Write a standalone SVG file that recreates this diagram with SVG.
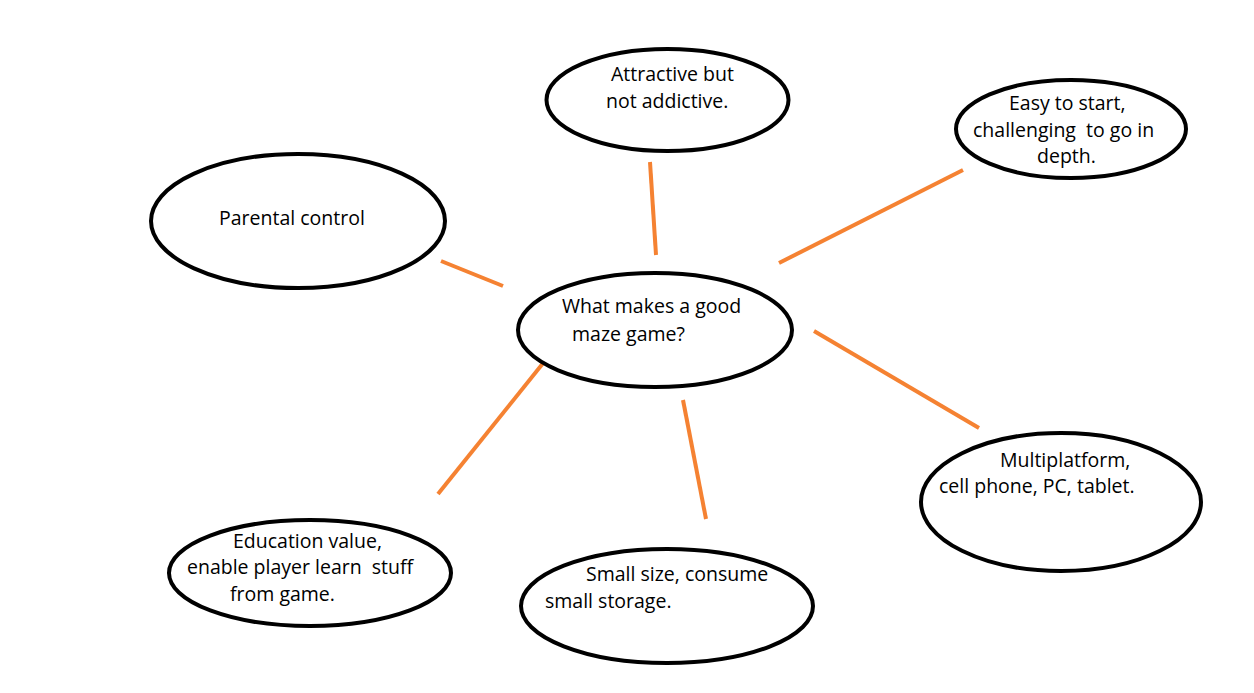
<svg xmlns="http://www.w3.org/2000/svg" width="1254" height="693" viewBox="0 0 1254 693">
<style>
.n{fill:#fff;stroke:#000;stroke-width:4}
.t{font-family:"Open Sans","Liberation Sans",sans-serif;font-size:19.5px;fill:#000;white-space:pre}
.c{stroke:#F58232;stroke-width:4;stroke-linecap:butt;fill:none}
</style>
<rect width="1254" height="693" fill="#fff"/>
<g id="connectors">
<line class="c" x1="650" y1="162" x2="656" y2="255"/>
<line class="c" x1="963" y1="170" x2="779" y2="263"/>
<line class="c" x1="441" y1="261" x2="503" y2="286"/>
<line class="c" x1="814" y1="331" x2="979" y2="428"/>
<line class="c" x1="683" y1="400" x2="706" y2="519"/>
<line class="c" x1="544" y1="362" x2="438" y2="494"/>
</g>
<g id="center">
<ellipse class="n" cx="655" cy="330" rx="137" ry="57"/>
<text class="t" x="562" y="313">What makes a good</text>
<text class="t" x="572" y="341">maze game?</text>
</g>
<g id="attractive">
<ellipse class="n" cx="667.5" cy="100" rx="121" ry="51"/>
<text class="t" x="611" y="81">Attractive but</text>
<text class="t" x="606" y="108">not addictive.</text>
</g>
<g id="easy">
<ellipse class="n" cx="1071" cy="129" rx="115" ry="49"/>
<text class="t" x="1009" y="110">Easy to start,</text>
<text class="t" x="973" y="137" xml:space="preserve">challenging  to go in</text>
<text class="t" x="1037" y="163">depth.</text>
</g>
<g id="parental">
<ellipse class="n" cx="298" cy="221" rx="147" ry="67"/>
<text class="t" x="219" y="225">Parental control</text>
</g>
<g id="education">
<ellipse class="n" cx="310" cy="573" rx="141" ry="53"/>
<text class="t" x="233" y="548">Education value,</text>
<text class="t" x="187" y="574" xml:space="preserve">enable player learn  stuff</text>
<text class="t" x="230" y="601">from game.</text>
</g>
<g id="small">
<ellipse class="n" cx="667" cy="606" rx="146" ry="57"/>
<text class="t" x="586" y="581">Small size, consume</text>
<text class="t" x="545" y="608">small storage.</text>
</g>
<g id="multi">
<ellipse class="n" cx="1061" cy="502" rx="140" ry="69"/>
<text class="t" x="1000" y="467">Multiplatform,</text>
<text class="t" x="939" y="493">cell phone, PC, tablet.</text>
</g>
</svg>
